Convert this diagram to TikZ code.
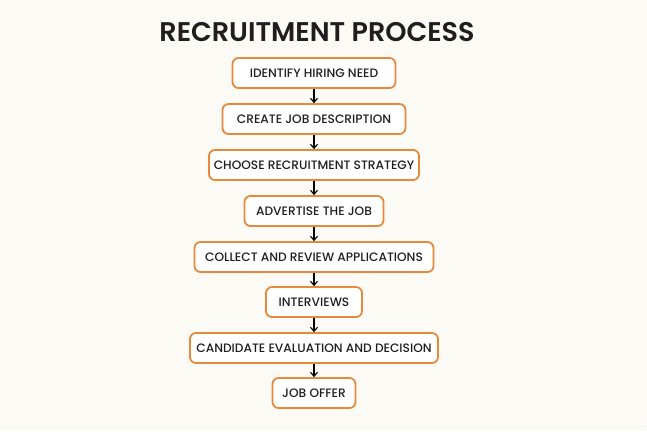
\documentclass[tikz,border=0pt]{standalone}
\usepackage{fontspec}
\setmainfont{Poppins}
\newfontfamily\medfont{Poppins Medium}
\newfontfamily\semifont{Poppins SemiBold}
\usetikzlibrary{arrows.meta}
\definecolor{bgc}{HTML}{FCFAF5}
\definecolor{boxc}{HTML}{E8883A}
\definecolor{txtc}{HTML}{1E1E1E}
\tikzset{
  stepbox/.style={draw=boxc, line width=1.8pt, fill=white, rounded corners=6pt,
    minimum height=30pt, inner xsep=4pt, text=txtc,
    font=\medfont\fontsize{12.2}{14}\selectfont},
  arr/.style={-{Straight Barb[length=4pt,width=7pt]}, line width=1.1pt, black}
}
\begin{document}
\begin{tikzpicture}[x=1pt,y=-1pt]
\path[fill=bgc] (0,0) rectangle (647,431);
\useasboundingbox (0,0) rectangle (647,431);
\node[text=txtc, font=\semifont\fontsize{27}{30}\selectfont] (title) at (317,32) {RECRUITMENT PROCESS};
\node[stepbox, minimum width=163pt] (s1) at (314,73) {IDENTIFY HIRING NEED};
\node[stepbox, minimum width=183pt] (s2) at (314,119) {CREATE JOB DESCRIPTION};
\node[stepbox, minimum width=210pt] (s3) at (314,165) {CHOOSE RECRUITMENT STRATEGY};
\node[stepbox, minimum width=139pt] (s4) at (314,211) {ADVERTISE THE JOB};
\node[stepbox, minimum width=239pt] (s5) at (314,257) {COLLECT AND REVIEW APPLICATIONS};
\node[stepbox, minimum width=96pt] (s6) at (314,302) {INTERVIEWS};
\node[stepbox, minimum width=248pt] (s7) at (314,348) {CANDIDATE EVALUATION AND DECISION};
\node[stepbox, minimum width=83pt] (s8) at (314,393) {JOB OFFER};
\foreach \a/\b in {s1/s2,s2/s3,s3/s4,s4/s5,s5/s6,s6/s7,s7/s8}
  \draw[arr] (\a.south) -- (\b.north);
\end{tikzpicture}
\end{document}
